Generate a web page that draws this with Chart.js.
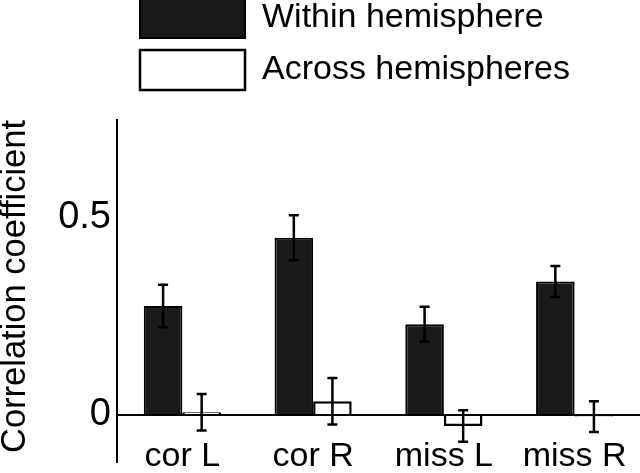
<!DOCTYPE html>
<html>
<head>
<meta charset="utf-8">
<script src="https://cdn.jsdelivr.net/npm/chart.js@4.4.1/dist/chart.umd.min.js"></script>
<style>
  html, body { margin: 0; padding: 0; background: #fff; }
  canvas { display: block; }
</style>
</head>
<body>
<canvas id="corrChart" width="640" height="473"></canvas>
<script>
"use strict";
const categories = ['cor L', 'cor R', 'miss L', 'miss R'];
const seriesNames = ['Within hemisphere', 'Across hemispheres'];
const withinValues = [0.276, 0.449, 0.230, 0.338];
const withinErrors = [0.054, 0.057, 0.044, 0.039];
const acrossValues = [0.007, 0.035, -0.028, -0.004];
const acrossErrors = [0.046, 0.059, 0.040, 0.039];
const yTicks = [0, 0.5];
const yMin = -0.119;
const yMax = 0.747;
const errorList = [withinErrors, acrossErrors];

Chart.defaults.font.family = '"Liberation Sans", Arial, sans-serif';
Chart.defaults.color = '#000';

// error bars drawn from the y scale
const errorBars = {
    id: 'errorBars',
    afterDatasetsDraw(chart) {
        const ctx = chart.ctx;
        const yScale = chart.scales.y;
        ctx.save();
        ctx.strokeStyle = '#000';
        ctx.lineWidth = 2.5;
        chart.data.datasets.forEach((dataset, d) => {
            const meta = chart.getDatasetMeta(d);
            meta.data.forEach((bar, i) => {
                const value = dataset.data[i];
                const err = errorList[d][i];
                const top = yScale.getPixelForValue(value + err);
                const bottom = yScale.getPixelForValue(value - err);
                ctx.beginPath();
                ctx.moveTo(bar.x, top);
                ctx.lineTo(bar.x, bottom);
                ctx.moveTo(bar.x - 5, top);
                ctx.lineTo(bar.x + 5, top);
                ctx.moveTo(bar.x - 5, bottom);
                ctx.lineTo(bar.x + 5, bottom);
                ctx.stroke();
            });
        });
        ctx.restore();
    }
};

// move the legend block up and right, like the original figure
const legendShift = {
    id: 'legendShift',
    afterLayout(chart) {
        const legend = chart.legend;
        legend.left += 11;
        legend.right += 11;
        legend.top -= 20;
        legend.bottom -= 20;
    }
};

const context = document.getElementById('corrChart');
const corrChart = new Chart(context, {
    type: 'bar',
    data: {
        labels: categories,
        datasets: [{
                label: seriesNames[0],
                data: withinValues,
                backgroundColor: '#1a1a1a',
                borderColor: '#000',
                borderWidth: 2,
            }, {
                label: seriesNames[1],
                data: acrossValues,
                backgroundColor: '#fff',
                borderColor: '#000',
                borderWidth: 2.5,
            }],
    },
    options: {
        responsive: false,
        animation: false,
        layout: { padding: { top: 6, left: 0, right: 0, bottom: 0 } },
        datasets: {
            bar: { barPercentage: 1, categoryPercentage: 0.59 }
        },
        plugins: {
            tooltip: { enabled: false },
            legend: {
                position: 'top',
                align: 'start',
                fullSize: false,
                labels: {
                    boxWidth: 105,
                    boxHeight: 40,
                    padding: 12,
                    color: '#000',
                    font: { size: 34 },
                },
            },
        },
        scales: {
            x: {
                grid: { display: false, drawTicks: false },
                border: { display: false },
                ticks: { mirror: true, padding: -15, color: '#000', font: { size: 34 } },
                afterFit: (axis) => { axis.height = 11; },
            },
            y: {
                min: yMin,
                max: yMax,
                afterBuildTicks: (axis) => { axis.ticks = yTicks.map(v => ({ value: v })); },
                grid: {
                    drawTicks: false,
                    lineWidth: 2,
                    color: (c) => (c.tick && c.tick.value === 0 ? '#000' : 'rgba(0,0,0,0)'),
                },
                border: { display: true, color: '#000', width: 2 },
                ticks: { padding: 6, color: '#000', font: { size: 38 } },
                title: {
                    display: true,
                    text: 'Correlation coefficient',
                    align: 'end',
                    color: '#000',
                    padding: 0,
                    font: { size: 34.5, lineHeight: 0.92 },
                },
                afterFit: (axis) => {
                    axis.width = 117;
                    axis.paddingTop = 0;
                    axis.paddingBottom = 0;
                },
            },
        },
    },
    plugins: [errorBars, legendShift],
});
</script>
</body>
</html>
